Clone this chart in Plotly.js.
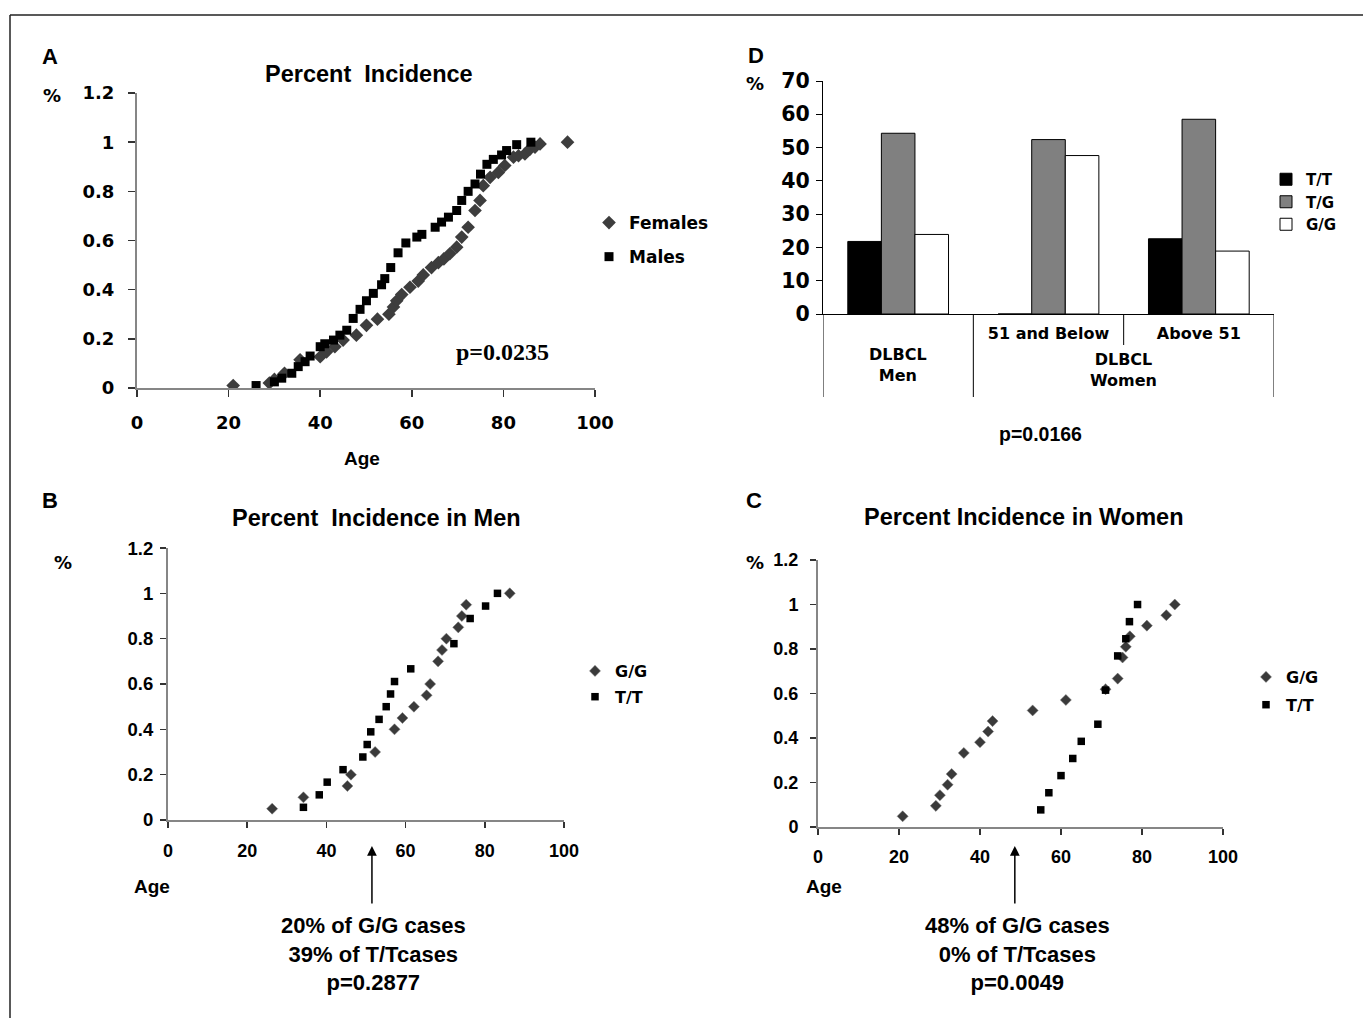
<!DOCTYPE html>
<html><head><meta charset="utf-8">
<script src="https://cdn.plot.ly/plotly-3.0.1.min.js"></script>
<style>html,body{margin:0;padding:0;background:#fff}#chart{width:1363px;height:1018px}</style>
</head><body><div id="chart"></div>
<script>
// ---------- Panel A: Percent Incidence ----------
const femaleAge = [21, 28.9, 30, 32.2, 35.6, 40, 41.4, 43.2, 45, 47.9, 50.1, 52.5, 55, 56, 56.7, 57.8, 59.6, 61.4, 62.5, 64.3, 65.8, 67, 68.3, 69.8, 70.9, 72.3, 73.8, 74.9, 75.6, 77.1, 78.9, 80.3, 82.2, 83.3, 84.7, 85.8, 86.9, 88, 94];
const femalePct = [0.01, 0.02, 0.035, 0.06, 0.115, 0.127, 0.147, 0.168, 0.195, 0.215, 0.255, 0.28, 0.3, 0.33, 0.355, 0.38, 0.41, 0.435, 0.46, 0.49, 0.51, 0.525, 0.546, 0.573, 0.614, 0.654, 0.722, 0.763, 0.823, 0.857, 0.877, 0.905, 0.939, 0.945, 0.952, 0.972, 0.98, 0.993, 1.0];
const maleAge = [26, 30, 31.6, 33.8, 35.2, 36.7, 37.8, 40, 41, 42.9, 44.3, 45.8, 47.2, 48.7, 50.1, 51.6, 53.4, 54.1, 55.4, 57, 58.7, 61.1, 62.2, 65.1, 66.5, 68, 69.8, 70.9, 72.3, 73.8, 75, 76.4, 77.8, 79.6, 80.7, 82.9, 86];
const malePct = [0.01, 0.025, 0.04, 0.06, 0.087, 0.107, 0.13, 0.168, 0.18, 0.195, 0.215, 0.235, 0.283, 0.32, 0.355, 0.385, 0.42, 0.445, 0.49, 0.55, 0.59, 0.614, 0.625, 0.654, 0.675, 0.695, 0.722, 0.763, 0.8, 0.83, 0.87, 0.91, 0.93, 0.948, 0.966, 0.99, 1.0];

// ---------- Panel B: Men ----------
const menGGAge = [26.3, 34.2, 45.3, 46.2, 52.3, 57.2, 59.2, 62.1, 65.3, 66.2, 68.2, 69.2, 70.3, 73.3, 74.2, 75.3, 86.3];
const menGGPct = [0.05, 0.1, 0.15, 0.2, 0.3, 0.4, 0.45, 0.5, 0.55, 0.6, 0.7, 0.75, 0.8, 0.85, 0.9, 0.95, 1.0];
const menTTAge = [34.2, 38.2, 40.2, 44.2, 49.2, 50.3, 51.2, 53.3, 55.1, 56.2, 57.2, 61.3, 72.2, 76.3, 80.2, 83.2];
const menTTPct = [0.056, 0.111, 0.167, 0.222, 0.278, 0.333, 0.389, 0.444, 0.5, 0.556, 0.611, 0.667, 0.778, 0.889, 0.944, 1.0];

// ---------- Panel C: Women ----------
const womenGGAge = [20.9, 29.1, 30.1, 32, 33, 36, 40, 42, 43.1, 53, 61.2, 71, 74, 75.2, 76, 77, 81.2, 86, 88.1];
const womenGGPct = [0.048, 0.095, 0.143, 0.19, 0.238, 0.333, 0.381, 0.429, 0.476, 0.524, 0.571, 0.619, 0.667, 0.762, 0.81, 0.857, 0.905, 0.952, 1.0];
const womenTTAge = [55, 57, 60, 62.9, 65, 69.1, 71, 74, 76, 76.9, 78.9];
const womenTTPct = [0.077, 0.154, 0.231, 0.308, 0.385, 0.462, 0.615, 0.769, 0.846, 0.923, 1.0];

// ---------- Panel D: genotype distribution ----------
const dGroups = ['DLBCL Men', '51 and Below', 'Above 51'];
const dTickText = ['', '51 and Below', 'Above 51'];
const dTT = [21.8, 0, 22.6];
const dTG = [54.3, 52.4, 58.5];
const dGG = [23.9, 47.6, 18.9];

const W = 1363, H = 1018;
const fx = p => p / W;
const fy = p => 1 - p / H;
const VB = {family: 'DejaVu Sans', weight: 'bold', color: '#000'};
const AB = {family: 'Liberation Sans', weight: 'bold', color: '#000'};
const TB = {family: 'Liberation Serif', weight: 'bold', color: '#000'};
const f = (base, size) => Object.assign({}, base, {size: size});

const ax = {showgrid: false, zeroline: false, showline: true, linecolor: '#868686', linewidth: 2,
  ticks: 'outside', tickcolor: '#333', tickwidth: 1.5, ticklen: 6, fixedrange: true};

const diamondA = {symbol: 'diamond', size: 10.5, color: '#3d3d3d'};
const squareA = {symbol: 'square', size: 9, color: '#000'};
const diamondB = {symbol: 'diamond', size: 8.5, color: '#3a3a3a', line: {color: '#777', width: 0.5}};
const squareB = {symbol: 'square', size: 7.5, color: '#000'};

const traces = [
  {type: 'scatter', mode: 'markers', x: femaleAge, y: femalePct, xaxis: 'x', yaxis: 'y', name: 'Females', legend: 'legend', legendgroup: 'a1', marker: diamondA},
  {type: 'scatter', mode: 'markers', x: maleAge, y: malePct, xaxis: 'x', yaxis: 'y', name: 'Males', legend: 'legend', legendgroup: 'a2', marker: squareA},
  {type: 'scatter', mode: 'markers', x: menGGAge, y: menGGPct, xaxis: 'x2', yaxis: 'y2', name: 'G/G', legend: 'legend2', legendgroup: 'b1', marker: diamondB},
  {type: 'scatter', mode: 'markers', x: menTTAge, y: menTTPct, xaxis: 'x2', yaxis: 'y2', name: 'T/T', legend: 'legend2', legendgroup: 'b2', marker: squareB},
  {type: 'scatter', mode: 'markers', x: womenGGAge, y: womenGGPct, xaxis: 'x3', yaxis: 'y3', name: 'G/G', legend: 'legend3', legendgroup: 'c1', marker: diamondB},
  {type: 'scatter', mode: 'markers', x: womenTTAge, y: womenTTPct, xaxis: 'x3', yaxis: 'y3', name: 'T/T', legend: 'legend3', legendgroup: 'c2', marker: squareB},
  {type: 'bar', x: dGroups, y: dTT, xaxis: 'x4', yaxis: 'y4', name: 'T/T', legend: 'legend4', marker: {color: '#000', line: {color: '#000', width: 1}}},
  {type: 'bar', x: dGroups, y: dTG, xaxis: 'x4', yaxis: 'y4', name: 'T/G', legend: 'legend4', marker: {color: '#808080', line: {color: '#000', width: 1}}},
  {type: 'bar', x: dGroups, y: dGG, xaxis: 'x4', yaxis: 'y4', name: 'G/G', legend: 'legend4', marker: {color: '#fff', line: {color: '#000', width: 1}}}
];

const legBase = {xanchor: 'left', yanchor: 'top', bgcolor: 'rgba(0,0,0,0)', borderwidth: 0, traceorder: 'grouped', itemwidth: 30};

const layout = {
  width: W, height: H, margin: {l: 0, r: 0, t: 0, b: 0}, paper_bgcolor: '#fff', plot_bgcolor: 'rgba(0,0,0,0)',
  font: {family: 'Liberation Sans', color: '#000'},
  barmode: 'group', bargap: 0.33, bargroupgap: 0,
  xaxis: Object.assign({}, ax, {domain: [fx(137), fx(595)], range: [0, 100], dtick: 20, anchor: 'y', ticklen: 7, ticklabelstandoff: 10, tickfont: f(VB, 18)}),
  yaxis: Object.assign({}, ax, {domain: [fy(388), fy(93)], range: [0, 1.2001], dtick: 0.2, anchor: 'x', ticklen: 7, ticklabelstandoff: 10, tickfont: f(VB, 18)}),
  xaxis2: Object.assign({}, ax, {domain: [fx(168), fx(564)], range: [0, 100], dtick: 20, anchor: 'y2', ticklabelstandoff: 7, tickfont: f(AB, 18)}),
  yaxis2: Object.assign({}, ax, {domain: [fy(820), fy(548)], range: [0, 1.2001], dtick: 0.2, anchor: 'x2', ticklabelstandoff: 3, tickfont: f(AB, 18.5)}),
  xaxis3: Object.assign({}, ax, {domain: [fx(818), fx(1223)], range: [0, 100], dtick: 20, anchor: 'y3', ticklabelstandoff: 6, tickfont: f(AB, 18)}),
  yaxis3: Object.assign({}, ax, {domain: [fy(827), fy(560)], range: [0, 1.2001], dtick: 0.2, anchor: 'x3', ticklabelstandoff: 8, tickfont: f(AB, 18)}),
  xaxis4: {domain: [fx(823), fx(1274)], type: 'category', range: [-0.5, 2.5], anchor: 'y4', showgrid: false, zeroline: false,
    showline: true, linecolor: '#000', linewidth: 1.2, ticks: '', tickvals: dGroups, ticktext: dTickText, ticklabelstandoff: 5, tickfont: f(VB, 16), fixedrange: true},
  yaxis4: {domain: [fy(314), fy(81)], range: [0, 70], dtick: 10, anchor: 'x4', showgrid: false, zeroline: false,
    showline: true, linecolor: '#000', linewidth: 1.2, ticks: 'outside', ticklen: 6, tickcolor: '#000', ticklabelstandoff: 2, tickfont: f(VB, 20.5), fixedrange: true},
  legend: Object.assign({}, legBase, {x: fx(589), y: fy(205), font: f(VB, 17), tracegroupgap: 9}),
  legend2: Object.assign({}, legBase, {x: fx(575), y: fy(654), font: f(VB, 16), tracegroupgap: 2}),
  legend3: Object.assign({}, legBase, {x: fx(1246), y: fy(660), font: f(VB, 16), tracegroupgap: 4}),
  legend4: Object.assign({}, legBase, {x: fx(1266), y: fy(163), font: f(VB, 15), traceorder: 'normal'}),
  shapes: [
    {type: 'line', xref: 'paper', yref: 'paper', x0: fx(10), x1: 1, y0: fy(15), y1: fy(15), line: {color: '#222', width: 1.5}},
    {type: 'line', xref: 'paper', yref: 'paper', x0: fx(10), x1: fx(10), y0: fy(15), y1: 0, line: {color: '#222', width: 1.5}},
    {type: 'line', xref: 'x4', yref: 'paper', x0: -0.5, x1: -0.5, y0: fy(314), y1: fy(397), line: {color: '#000', width: 1}},
    {type: 'line', xref: 'x4', yref: 'paper', x0: 0.5, x1: 0.5, y0: fy(314), y1: fy(397), line: {color: '#000', width: 1}},
    {type: 'line', xref: 'x4', yref: 'paper', x0: 1.5, x1: 1.5, y0: fy(314), y1: fy(345), line: {color: '#000', width: 1}},
    {type: 'line', xref: 'x4', yref: 'paper', x0: 2.5, x1: 2.5, y0: fy(314), y1: fy(397), line: {color: '#000', width: 1}}
  ],
  annotations: [
    {text: 'A', x: fx(50), y: fy(57), font: f(AB, 22)},
    {text: 'Percent  Incidence', x: fx(369), y: fy(74), font: f(AB, 23.5)},
    {text: '%', x: fx(52), y: fy(96), font: f(VB, 18)},
    {text: 'Age', x: fx(362), y: fy(458), font: f(AB, 19)},
    {text: 'p=0.0235', x: fx(502), y: fy(352), font: f(TB, 24)},
    {text: 'B', x: fx(50), y: fy(500), font: f(AB, 22)},
    {text: 'Percent  Incidence in Men', x: fx(376), y: fy(518), font: f(AB, 23.5)},
    {text: '%', x: fx(63), y: fy(562), font: f(VB, 18)},
    {text: 'Age', x: fx(152), y: fy(886), font: f(AB, 19)},
    {text: '20% of G/G cases<br>39% of T/Tcases<br>p=0.2877', x: fx(373), y: fy(954), font: f(AB, 22)},
    {text: '', xref: 'x2', yref: 'paper', x: 51.5, y: fy(846), showarrow: true, ax: 0, ay: 59, arrowhead: 2, arrowsize: 1.3, arrowwidth: 1.5, arrowcolor: '#000'},
    {text: 'C', x: fx(754), y: fy(500), font: f(AB, 22)},
    {text: 'Percent Incidence in Women', x: fx(1024), y: fy(517), font: f(AB, 23.5)},
    {text: '%', x: fx(755), y: fy(562), font: f(VB, 18)},
    {text: 'Age', x: fx(824), y: fy(886), font: f(AB, 19)},
    {text: '48% of G/G cases<br>0% of T/Tcases<br>p=0.0049', x: fx(1017), y: fy(954), font: f(AB, 22)},
    {text: '', xref: 'x3', yref: 'paper', x: 48.6, y: fy(846), showarrow: true, ax: 0, ay: 59, arrowhead: 2, arrowsize: 1.3, arrowwidth: 1.5, arrowcolor: '#000'},
    {text: 'D', x: fx(756), y: fy(55), font: f(AB, 22)},
    {text: '%', x: fx(755), y: fy(83), font: f(VB, 18)},
    {text: 'DLBCL<br>Men', xref: 'x4', x: 0, y: fy(365), font: f(VB, 16)},
    {text: 'DLBCL<br>Women', xref: 'x4', x: 1.5, y: fy(370), font: f(VB, 16)},
    {text: 'p=0.0166', x: fx(1040), y: fy(434), font: f(AB, 19.5)}
  ].map(a => Object.assign({xref: 'paper', yref: 'paper', showarrow: false, xanchor: 'center', yanchor: 'middle'}, a))
};

Plotly.newPlot('chart', traces, layout, {staticPlot: true, displayModeBar: false});
</script>
</body></html>
